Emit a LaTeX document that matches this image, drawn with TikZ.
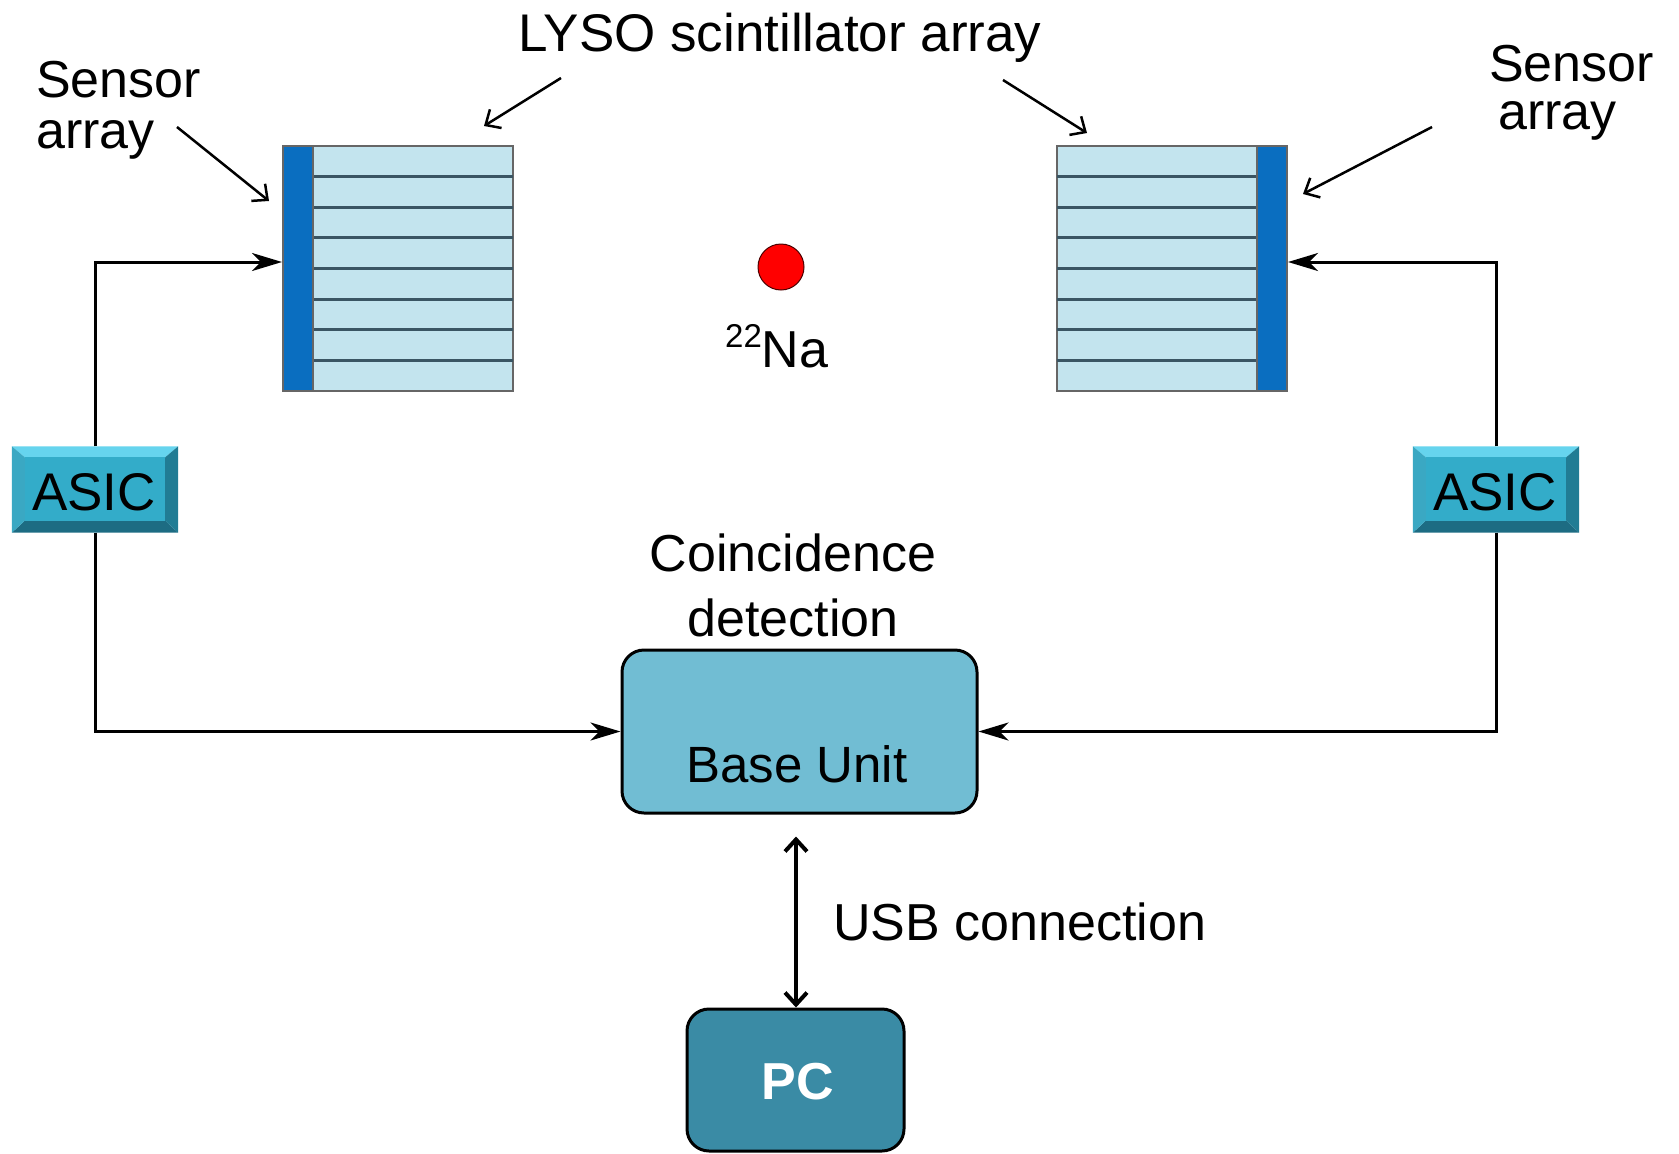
\documentclass[tikz,border=0pt]{standalone}
\usepackage{fontspec}
\setmainfont{Liberation Sans}
\usetikzlibrary{arrows.meta}
\definecolor{sensorblue}{HTML}{0A6EC0}
\definecolor{crystal}{HTML}{C3E4EE}
\definecolor{sepcol}{HTML}{3A5563}
\definecolor{basefill}{HTML}{71BDD3}
\definecolor{pcfill}{HTML}{3A8BA5}
\definecolor{asicface}{HTML}{33ACC9}
\definecolor{asictop}{HTML}{66D4EE}
\definecolor{asicleft}{HTML}{3AA8C3}
\definecolor{asicright}{HTML}{217C94}
\definecolor{asicbot}{HTML}{1D6C83}
\definecolor{dotred}{HTML}{FF0000}
\tikzset{
  big/.style={font=\fontsize{52}{58}\selectfont, inner sep=0pt},
  lbl/.style={big, anchor=base west},
  crystalbox/.style={draw=black!60, line width=2pt, fill=crystal, inner sep=0pt},
  sensorbox/.style={draw=black!60, line width=2pt, fill=sensorblue, inner sep=0pt, minimum width=30pt, minimum height=245pt},
  sepline/.style={draw=sepcol, line width=3pt},
  asicbox/.style={inner sep=0pt, minimum width=166pt, minimum height=86pt, font=\fontsize{52}{58}\selectfont},
  fb/.style={line width=3pt, -{Stealth[length=30pt,width=18pt,inset=9pt]}},
  pointer/.style={line width=2.5pt, -{Straight Barb[length=12pt,width=22pt,line width=2.5pt]}},
  usb/.style={line width=4pt, {Straight Barb[length=12pt,width=22pt,line width=4pt]}-{Straight Barb[length=12pt,width=22pt,line width=4pt]}},
  roundbox/.style={draw=black, line width=3pt, rounded corners=22pt, inner sep=0pt}
}
\newcommand{\bevelasic}[1]{%
  \fill[asictop] (#1.north west) -- (#1.north east) -- ([xshift=-13pt,yshift=-11pt]#1.north east) -- ([xshift=13pt,yshift=-11pt]#1.north west) -- cycle;
  \fill[asicbot] (#1.south west) -- (#1.south east) -- ([xshift=-13pt,yshift=12pt]#1.south east) -- ([xshift=13pt,yshift=12pt]#1.south west) -- cycle;
  \fill[asicleft] (#1.north west) -- ([xshift=13pt,yshift=-11pt]#1.north west) -- ([xshift=13pt,yshift=12pt]#1.south west) -- (#1.south west) -- cycle;
  \fill[asicright] (#1.north east) -- ([xshift=-13pt,yshift=-11pt]#1.north east) -- ([xshift=-13pt,yshift=12pt]#1.south east) -- (#1.south east) -- cycle;
  \fill[asicface] ([xshift=13pt,yshift=-11pt]#1.north west) rectangle ([xshift=-13pt,yshift=12pt]#1.south east);
}
\begin{document}
\begin{tikzpicture}[x=1pt, y=-1pt]
\useasboundingbox (0,0) rectangle (1679,1154);
\fill[white] (0,0) rectangle (1679,1154);

% left detector
\node[crystalbox, minimum width=200pt, minimum height=245pt] (lysoL) at (413,268.5) {};
\foreach \k in {1,...,7} \draw[sepline] (313,{146+\k*30.625}) -- (513,{146+\k*30.625});
\node[sensorbox] (sensL) at (298,268.5) {};

% right detector
\node[crystalbox, minimum width=200pt, minimum height=245pt] (lysoR) at (1157,268.5) {};
\foreach \k in {1,...,7} \draw[sepline] (1057,{146+\k*30.625}) -- (1257,{146+\k*30.625});
\node[sensorbox] (sensR) at (1272,268.5) {};

% source
\node[circle, fill=dotred, draw=black!70!red, line width=1pt, minimum size=46pt, inner sep=0pt] (src) at (781,267) {};
\node[lbl] (na) at (725,367) {\raisebox{20pt}{\fontsize{33}{33}\selectfont 22}Na};

% labels
\node[lbl, font=\fontsize{53}{58}\selectfont] (lyso) at (518,51) {LYSO scintillator array};
\node[lbl] (sensLa) at (36,97) {Sensor};
\node[lbl] (sensLb) at (36,148) {array};
\node[lbl] (sensRa) at (1489,81) {Sensor};
\node[lbl] (sensRb) at (1498,129) {array};

\coordinate (pLs) at (177,127);
\coordinate (pLe) at (269,201);
\coordinate (pRs) at (1432,127);
\coordinate (pRe) at (1303,194);
\coordinate (yLs) at (561,78);
\coordinate (yLe) at (484,126);
\coordinate (yRs) at (1003,80);
\coordinate (yRe) at (1087,133);
\draw[pointer] (pLs) -- (pLe);
\draw[pointer] (pRs) -- (pRe);
\draw[pointer] (yLs) -- (yLe);
\draw[pointer] (yRs) -- (yRe);

% ASICs
\node[asicbox] (asicL) at (95,489.5) {};
\bevelasic{asicL}
\node[big, anchor=base, font=\fontsize{53}{58}\selectfont] (asicLt) at (94,510) {ASIC};
\node[asicbox] (asicR) at (1496,489.5) {};
\bevelasic{asicR}
\node[big, anchor=base, font=\fontsize{53}{58}\selectfont] (asicRt) at (1495,510) {ASIC};

% base unit
\node[big, anchor=base] (coin1) at (793,571) {Coincidence};
\node[big, anchor=base] (coin2) at (793,636) {detection};
\node[roundbox, fill=basefill, minimum width=355pt, minimum height=163pt] (base) at (799.5,731.5) {};
\node[big, anchor=base, font=\fontsize{51}{56}\selectfont] (baset) at (797,782) {Base Unit};

% PC
\node[roundbox, fill=pcfill, minimum width=217pt, minimum height=142pt] (pc) at (795.5,1080) {};
\node[anchor=base, inner sep=0pt, text=white, font=\fontsize{52}{56}\selectfont\bfseries] (pct) at (798,1099) {PC};

% connectors
\draw[fb] (asicL.north) |- ([yshift=6.5pt]sensL.west);
\draw[fb] (asicR.north) |- ([yshift=6.5pt]sensR.east);
\draw[fb] (asicL.south) |- (base.west);
\draw[fb] (asicR.south) |- (base.east);
\draw[usb] ([xshift=-3.5pt,yshift=-22pt]base.south) -- ([xshift=0.5pt]pc.north);
\node[lbl] (usbt) at (833,940) {USB connection};
\end{tikzpicture}
\end{document}
